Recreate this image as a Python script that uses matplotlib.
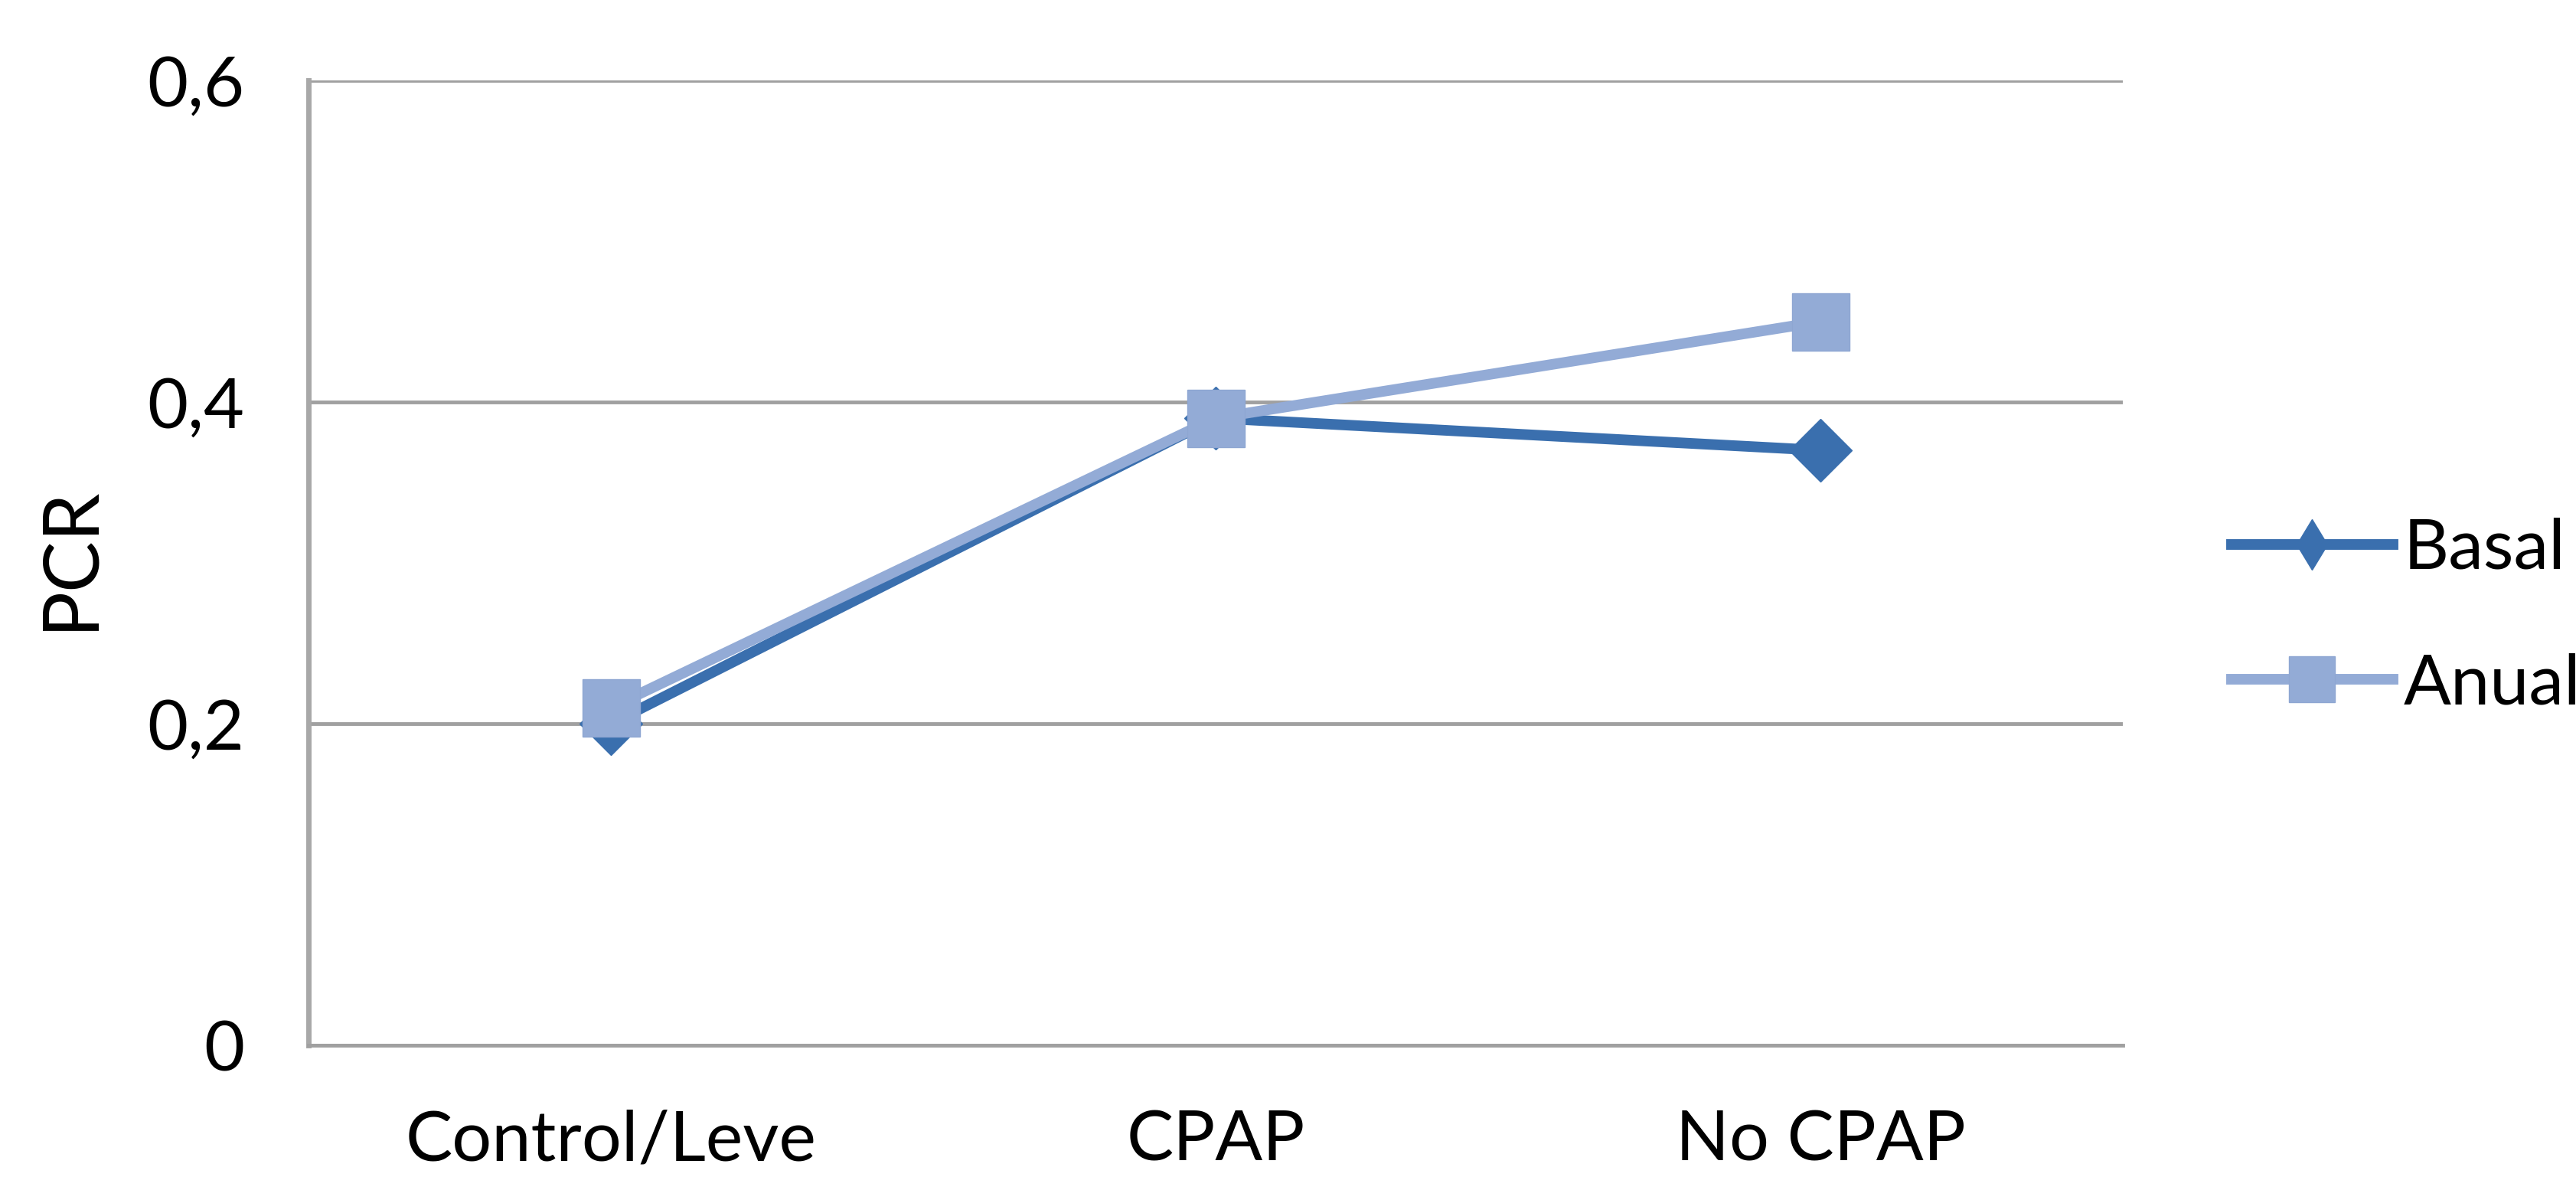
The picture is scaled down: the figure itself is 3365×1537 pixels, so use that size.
import matplotlib
matplotlib.use("Agg")
import matplotlib.pyplot as plt

categories = ["Control/Leve", "CPAP", "No CPAP"]
basal = [0.20, 0.39, 0.37]
anual = [0.21, 0.39, 0.45]
yticks = [0, 0.2, 0.4, 0.6]
ytick_labels = ["0", "0,2", "0,4", "0,6"]

plt.rcParams["font.family"] = ["Lato", "DejaVu Sans"]

fig = plt.figure(figsize=(33.66, 15.37), dpi=100)
ax = fig.add_axes([0.1197, 0.1119, 0.7041, 0.8198])

x = list(range(len(categories)))
ax.plot(x, basal, color="#3a6fae", lw=10, marker="D", ms=42,
        markeredgecolor="#3a6fae", label="Basal", zorder=3)
ax.plot(x, anual, color="#93abd6", lw=10, marker="s", ms=54,
        markeredgecolor="#8ea6d2", label="Anual", zorder=4)

ax.set_xlim(-0.5, 2.5)
ax.set_ylim(0, 0.6)
ax.set_yticks(yticks)
ax.set_yticklabels(ytick_labels)
ax.set_xticks(x)
ax.set_xticklabels(categories)
ax.tick_params(length=0, labelsize=66)
ax.tick_params(axis="y", pad=60)
ax.tick_params(axis="x", pad=60)
ax.yaxis.grid(True, color="#a0a0a0", lw=3.5)
ax.set_axisbelow(True)
for s in ["top", "right"]:
    ax.spines[s].set_visible(False)
ax.spines["left"].set_color("#a8a8a8")
ax.spines["left"].set_linewidth(5)
ax.spines["bottom"].set_color("#a0a0a0")
ax.spines["bottom"].set_linewidth(3.5)
ax.set_ylabel("PCR", fontsize=72)
ax.yaxis.set_label_coords(-0.112, 0.505)

leg = fig.legend(loc="center left", bbox_to_anchor=(0.866, 0.476), frameon=False,
                 fontsize=66, handlelength=2.3, handletextpad=0.15,
                 labelspacing=1.02, borderaxespad=0, borderpad=0,
                 markerscale=0.8)
leg.legend_handles[0].set_marker("d")

fig.savefig("out.png", dpi=100)
plt.close(fig)
